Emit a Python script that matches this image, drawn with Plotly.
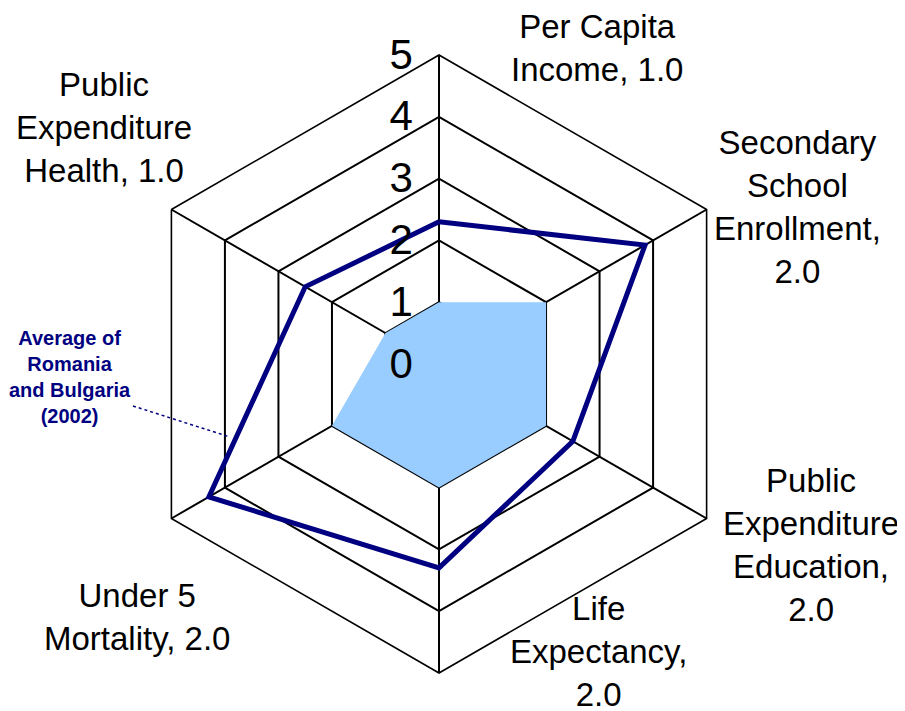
import plotly.graph_objects as go

# axes, clockwise from the top
categories = [
    "Per Capita Income",
    "Secondary School Enrollment",
    "Public Expenditure Education",
    "Life Expectancy",
    "Under 5 Mortality",
    "Public Expenditure Health",
]
target_values = [1.0, 2.0, 2.0, 2.0, 2.0, 1.0]
avg_ro_bg_2002 = [2.3, 3.85, 2.5, 3.3, 4.3, 2.5]
radial_ticks = [0, 1, 2, 3, 4, 5]

label_texts = [
    "Per Capita<br>Income, 1.0",
    "Secondary<br>School<br>Enrollment,<br>2.0",
    "Public<br>Expenditure<br>Education,<br>2.0",
    "Life<br>Expectancy,<br>2.0",
    "Under 5<br>Mortality, 2.0",
    "Public<br>Expenditure<br>Health, 1.0",
]
# label centres, page pixels
label_px = [(597, 48), (797, 207), (811, 545), (598, 651), (137, 617), (104, 127)]

W, H = 905, 711
PAGE_OFFSET = 8  # default body margin of the html page


def to_paper(px, py):
    return (px - PAGE_OFFSET) / W, 1 - (py - PAGE_OFFSET) / H


FONT = "Liberation Sans, Arial, sans-serif"
NAVY = "#000080"
FILL = "#99CCFF"

closed = lambda seq: list(seq) + [seq[0]]

fig = go.Figure()
fig.add_trace(go.Scatterpolar(
    r=closed(target_values), theta=closed(categories), mode="lines",
    fill="toself", fillcolor=FILL, line=dict(width=0, color=FILL),
    hoverinfo="skip", showlegend=False,
))
fig.add_trace(go.Scatterpolar(
    r=closed(avg_ro_bg_2002), theta=closed(categories), mode="lines",
    line=dict(color=NAVY, width=5), name="Average of Romania and Bulgaria (2002)",
    showlegend=False,
))

fig.update_layout(
    width=W, height=H,
    margin=dict(l=0, r=0, t=0, b=0),
    paper_bgcolor="white",
    font=dict(family=FONT, color="black"),
    polar=dict(
        domain=dict(x=[0.1348, 0.8177], y=[0.0647, 0.9339]),
        bgcolor="white",
        gridshape="linear",
        radialaxis=dict(
            range=[0, 5], tickvals=radial_ticks, angle=90, tickangle=90,
            side="counterclockwise", showline=False,
            ticks="outside", ticklen=11, tickcolor="rgba(0,0,0,0)",
            gridcolor="black", gridwidth=1.6, layer="above traces",
            tickfont=dict(size=42, family=FONT, color="black"),
        ),
        angularaxis=dict(
            categoryarray=categories, rotation=90, direction="clockwise",
            showticklabels=False, ticks="", showline=True,
            linecolor="black", linewidth=1.6,
            gridcolor="black", gridwidth=1.6, layer="above traces",
        ),
    ),
)

for text, (px, py) in zip(label_texts, label_px):
    x, y = to_paper(px, py)
    fig.add_annotation(
        text=text, x=x, y=y, xref="paper", yref="paper",
        showarrow=False, align="center", xanchor="center", yanchor="middle",
        font=dict(size=33, family=FONT, color="black"),
    )

lx, ly = to_paper(70, 377)
fig.add_annotation(
    text="<b>Average of<br>Romania<br>and Bulgaria<br>(2002)</b>",
    x=lx, y=ly, xref="paper", yref="paper", showarrow=False,
    xanchor="center", yanchor="middle",
    align="center", font=dict(size=20, family=FONT, color=NAVY),
)
x0, y0 = to_paper(133, 406)
x1, y1 = to_paper(230, 437)
fig.add_shape(
    type="line", xref="paper", yref="paper", x0=x0, y0=y0, x1=x1, y1=y1,
    line=dict(color=NAVY, width=1.5, dash="dot"),
)

fig.write_html("out.html")
